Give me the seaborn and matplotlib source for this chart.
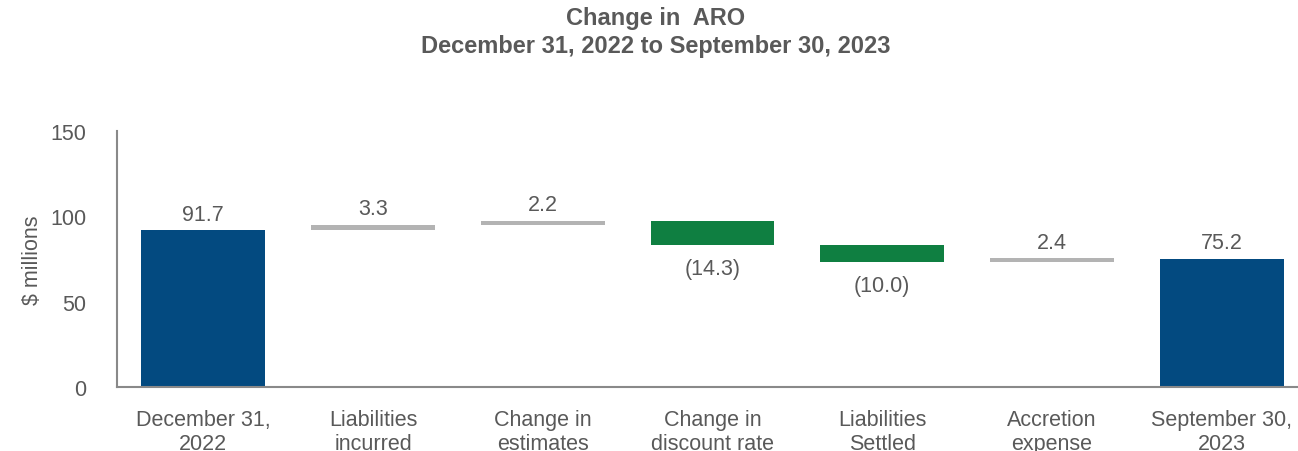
import numpy as np
import pandas as pd
import seaborn as sns
import matplotlib.pyplot as plt

# waterfall data ($ millions)
categories = ['December 31,\n2022', 'Liabilities\nincurred', 'Change in\nestimates',
              'Change in\ndiscount rate', 'Liabilities\nSettled', 'Accretion\nexpense',
              'September 30,\n2023']
values = [91.7, 3.3, 2.2, -14.3, -10.0, 2.4, 75.2]
kinds = ['total', 'up', 'up', 'down', 'down', 'up', 'total']
labels = ['91.7', '3.3', '2.2', '(14.3)', '(10.0)', '2.4', '75.2']

kind_colors = {'total': '#034A80', 'up': '#B3B3B3', 'down': '#0F7F41'}
text_color = '#595959'

# compute bar bottoms / heights for the waterfall
bottoms, heights = [], []
running = 0.0
for v, k in zip(values, kinds):
    if k == 'total':
        bottoms.append(0.0)
        heights.append(v)
        running = v
    elif v >= 0:
        bottoms.append(running)
        heights.append(v)
        running += v
    else:
        bottoms.append(running + v)
        heights.append(-v)
        running += v

df = pd.DataFrame({'category': categories, 'height': heights, 'bottom': bottoms})

sns.set_style('white')
plt.rcParams['font.family'] = ['Liberation Sans', 'DejaVu Sans']

fig, ax = plt.subplots(figsize=(12.98, 4.52), dpi=100)
fig.subplots_adjust(left=0.090, right=1.0, bottom=0.142, top=0.708)

sns.barplot(data=df, x='category', y='height', bottom=df['bottom'].values,
            width=0.73, errorbar=None, color=kind_colors['total'], ax=ax)
for patch, k in zip(ax.patches, kinds):
    patch.set_facecolor(kind_colors[k])
    patch.set_edgecolor('none')

fs = 15.5
# value labels
for i, (b, h, v, lab) in enumerate(zip(bottoms, heights, values, labels)):
    if v >= 0:
        ax.annotate(lab, (i, b + h), xytext=(0, 4), textcoords='offset points',
                    ha='center', va='bottom', fontsize=fs, color=text_color)
    else:
        ax.annotate(lab, (i, b), xytext=(0, -9), textcoords='offset points',
                    ha='center', va='top', fontsize=fs, color=text_color)

ax.set_ylim(0, 150)
ax.set_yticks([0, 50, 100, 150])
ax.set_xlim(-0.51, 6.45)
ax.set_xlabel('')
ax.set_ylabel('\\$ millions', fontsize=fs, color=text_color, labelpad=5)
ax.tick_params(axis='both', length=0, labelsize=fs, labelcolor=text_color)
ax.tick_params(axis='x', pad=16)
ax.tick_params(axis='y', pad=22)
for lab in ax.get_xticklabels():
    lab.set_linespacing(1.2)

for side in ['top', 'right']:
    ax.spines[side].set_visible(False)
for side in ['left', 'bottom']:
    ax.spines[side].set_color('#898989')
    ax.spines[side].set_linewidth(1.5)

fig.text(0.505, 0.985, 'Change in  ARO\nDecember 31, 2022 to September 30, 2023',
         ha='center', va='top', fontsize=17, fontweight='bold', color=text_color,
         linespacing=1.3)

plt.savefig('out.png', dpi=100)
